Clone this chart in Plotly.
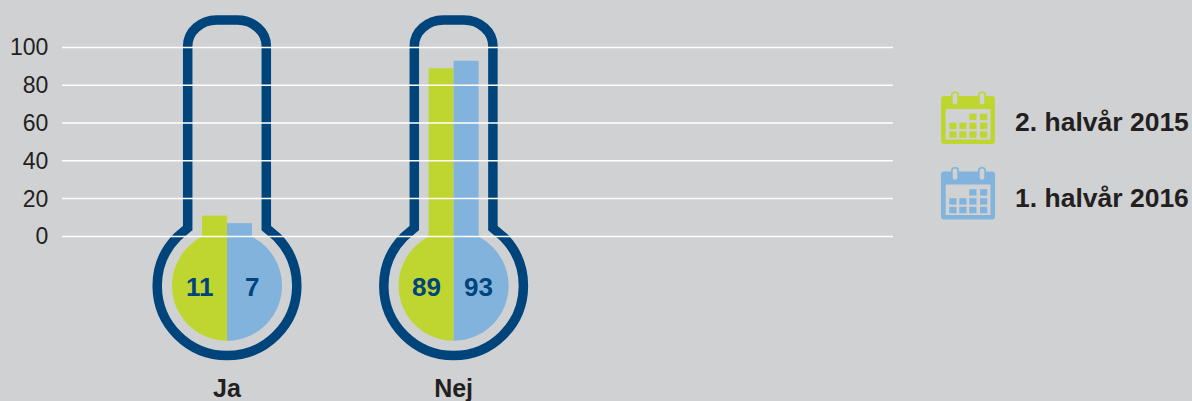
import math
import plotly.graph_objects as go

categories = ["Ja", "Nej"]
series_names = ["2. halvår 2015", "1. halvår 2016"]
values_2015 = [11, 89]
values_2016 = [7, 93]
y_ticks = [0, 20, 40, 60, 80, 100]

BG = "#d0d1d3"
GREEN = "#bed62f"
BLUE = "#82b3dc"
NAVY = "#00447c"
INK = "#231f20"
FONT = "Liberation Sans"

# page layout in pixels
W, H = 1192, 401
L, R, T, B = 62, W - 893, 0, 30
PX_PER_UNIT = 1.89
ZERO_PX = 236.4
CAT0, CAT_STEP = 227.0, 226.6
plot_w = W - L - R
plot_h = H - T - B
y_top = (ZERO_PX - T) / PX_PER_UNIT
y_bot = -(H - B - ZERO_PX) / PX_PER_UNIT
x_lo = (L - CAT0) / CAT_STEP
x_hi = (W - R - CAT0) / CAT_STEP
BAR_W = 25.0


def arc(cx, cy, r, a0, a1):
    """Bezier segments for a circular arc; y positive upward; angles in degrees."""
    n = max(1, int(abs(a1 - a0) // 45) + 1)
    step = math.radians(a1 - a0) / n
    k = 4 / 3 * math.tan(step / 4)
    a = math.radians(a0)
    out = []
    for _ in range(n):
        b = a + step
        x0, y0 = cx + r * math.cos(a), cy + r * math.sin(a)
        x1, y1 = cx + r * math.cos(b), cy + r * math.sin(b)
        out.append(
            f"C{x0 - k * r * math.sin(a):.2f},{y0 + k * r * math.cos(a):.2f} "
            f"{x1 + k * r * math.sin(b):.2f},{y1 - k * r * math.cos(b):.2f} {x1:.2f},{y1:.2f}"
        )
        a = b
    return " ".join(out)


# thermometer geometry, offsets from (category, y=0), y upward
BULB_CY = -49.4   # px below zero line
R_FILL, R_GLASS = 55.0, 69.8
TUBE_X = 39.3
TUBE_TOP = 216.4
SHOULDER_X, SHOULDER_Y = 50.0, -0.8
NECK_Y = 8.4
a_end = math.degrees(math.atan2(SHOULDER_Y - BULB_CY, SHOULDER_X))
a_start = 180 - a_end
RX, RY = 29.0, 26.0
glass = (
    f"M{-TUBE_X},{NECK_Y} L{-SHOULDER_X},{SHOULDER_Y} "
    + arc(0, BULB_CY, R_GLASS, a_start, 360 + a_end)
    + f" L{TUBE_X},{NECK_Y} L{TUBE_X},{TUBE_TOP - RY} "
    + f"C{TUBE_X},{TUBE_TOP - 0.45 * RY} {TUBE_X - 0.45 * RX},{TUBE_TOP} {TUBE_X - RX},{TUBE_TOP} "
    + f"L{-TUBE_X + RX},{TUBE_TOP} "
    + f"C{-TUBE_X + 0.45 * RX},{TUBE_TOP} {-TUBE_X},{TUBE_TOP - 0.45 * RY} {-TUBE_X},{TUBE_TOP - RY} Z"
)
half_left = f"M0,{BULB_CY + R_FILL} " + arc(0, BULB_CY, R_FILL, 90, 270) + " Z"
half_right = f"M0,{BULB_CY - R_FILL} " + arc(0, BULB_CY, R_FILL, -90, 90) + " Z"

shapes = []


def px_shape(path, xanchor, yanchor, xref="x", yref="y", fill=None, line=None, lw=0, layer="below"):
    shapes.append(dict(
        type="path", path=path, xref=xref, yref=yref, xsizemode="pixel", ysizemode="pixel",
        xanchor=xanchor, yanchor=yanchor, fillcolor=fill or "rgba(0,0,0,0)",
        line=dict(color=line or "rgba(0,0,0,0)", width=lw), layer=layer,
    ))


for i in range(len(categories)):
    px_shape(half_left, i, 0, fill=GREEN)
    px_shape(half_right, i, 0, fill=BLUE)
    px_shape(glass, i, 0, line=NAVY, lw=9.5)


def rect(x0, y0, x1, y1):
    return f"M{x0},{-y0} L{x1},{-y0} L{x1},{-y1} L{x0},{-y1} Z"


def rrect(x0, y0, x1, y1, r):
    return (f"M{x0 + r},{-y0} L{x1 - r},{-y0} Q{x1},{-y0} {x1},{-y0 - r} L{x1},{-y1 + r} "
            f"Q{x1},{-y1} {x1 - r},{-y1} L{x0 + r},{-y1} Q{x0},{-y1} {x0},{-y1 + r} "
            f"L{x0},{-y0 - r} Q{x0},{-y0} {x0 + r},{-y0} Z")


def calendar(px, py, color):
    """Icon whose top-left body corner sits at page pixel (px, py)."""
    ax, ay = (px - L) / plot_w, 1 - (py - T) / plot_h
    def add(path, fill):
        px_shape(path, ax, ay, xref="paper", yref="paper", fill=fill, layer="above")
    add(rrect(0, 0, 54, 48, 3), color)
    add(rect(4.7, 13, 49.5, 43.5), BG)
    for rx in (10.0, 37.0):
        add(rrect(rx, -4.5, rx + 8, 10, 3.6), color)
        add(rrect(rx + 1.7, -3, rx + 6.3, 8.2, 2.2), BG)
    col_x = [8.3, 18.3, 28.3, 39]
    row_y = [17.7, 26.7, 35.3]
    for r, y in enumerate(row_y):
        for c, x in enumerate(col_x):
            if r == 0 and c < 2:
                continue
            add(rect(x, y, x + 7.2, y + 6.4), color)


calendar(941, 96, GREEN)
calendar(941, 171.5, BLUE)

for t in y_ticks:
    shapes.append(dict(type="line", xref="paper", x0=0, x1=1, yref="y", y0=t, y1=t,
                       line=dict(color="white", width=1.5), layer="above"))

fig = go.Figure()
fig.add_bar(name=series_names[0], x=categories, y=values_2015, marker=dict(color=GREEN, line_width=0),
            offset=-BAR_W / CAT_STEP, width=BAR_W / CAT_STEP)
fig.add_bar(name=series_names[1], x=categories, y=values_2016, marker=dict(color=BLUE, line_width=0),
            offset=0, width=BAR_W / CAT_STEP)

annotations = []
for i in range(len(categories)):
    for vals, shift in ((values_2015, -27.5), (values_2016, 25)):
        annotations.append(dict(x=categories[i], y=BULB_CY / PX_PER_UNIT, text=f"<b>{vals[i]}</b>",
                                showarrow=False, xshift=shift, yshift=-1, xanchor="center", yanchor="middle",
                                font=dict(family=FONT, size=26, color=NAVY)))
for name, py in zip(series_names, (122, 198)):
    annotations.append(dict(x=(1191 - L) / plot_w, y=1 - (py - T) / plot_h, xref="paper", yref="paper",
                            text=f"<b>{name}</b>", showarrow=False, xanchor="right", yanchor="middle",
                            font=dict(family=FONT, size=26.5, color=INK)))

fig.update_layout(
    width=W, height=H, autosize=False,
    margin=dict(l=L, r=R, t=T, b=B, pad=0),
    paper_bgcolor=BG, plot_bgcolor=BG,
    showlegend=False,
    shapes=shapes, annotations=annotations,
    xaxis=dict(type="category", range=[x_lo, x_hi], showgrid=False, zeroline=False, showline=False,
               automargin=False, ticks="", tickfont=dict(family=FONT, size=25, color=INK),
               tickvals=categories, ticktext=[f"<b>{c}</b>" for c in categories]),
    yaxis=dict(range=[y_bot, y_top], showgrid=False, zeroline=False, showline=False, automargin=False,
               tickvals=y_ticks, ticks="outside", ticklen=8, tickcolor="rgba(0,0,0,0)",
               tickfont=dict(family=FONT, size=23, color=INK)),
)
fig.write_html("out.html", config=dict(displayModeBar=False),
               post_script="document.documentElement.style.overflow='hidden';"
                           "document.body.style.margin='0';document.body.style.background='" + BG + "';")
